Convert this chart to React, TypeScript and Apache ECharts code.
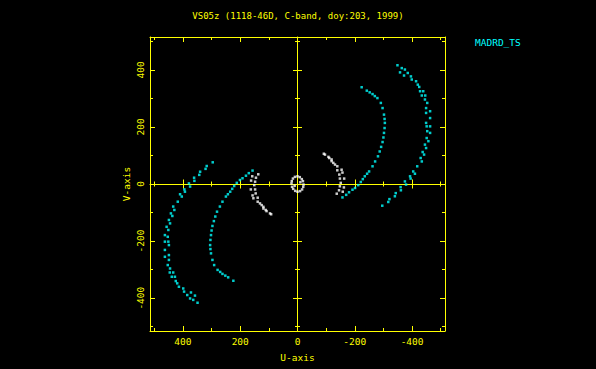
import React, { useEffect, useRef } from 'react';
import * as echarts from 'echarts';

const TITLE = 'VS05z (1118-46D, C-band, doy:203, 1999)';
const LEGEND = 'MADRD_TS';
const X_NAME = 'U-axis';
const Y_NAME = 'V-axis';
const AXIS_MIN = -515;
const AXIS_MAX = 515;
const MAJOR_TICKS = [-400, -200, 0, 200, 400];
const MINOR_TICKS = [-500, -300, -100, 100, 300, 500];
const CENTER_MAJOR = [-400, -200, 200, 400];
const TICK_LABELS = [-400, -200, 0, 200, 400];

// MADRD_TS long baseline track (u, v) — conjugates added below
const outerArc: number[][] = [
  [296, 76], [317, 63], [321, 53], [340, 43], [343, 32], [361, 22], [360, 11], [379, 2],
  [375, -9], [395, -19], [393, -27], [410, -36], [404, -44], [418, -62], [434, -79], [430, -91],
  [442, -103], [437, -112], [449, -126], [445, -138], [457, -150], [451, -161], [463, -179], [453, -185],
  [463, -202], [451, -202], [449, -214], [463, -231], [449, -249], [463, -255], [449, -266], [453, -284],
  [445, -296], [446, -310], [434, -310], [439, -325], [428, -325], [425, -340], [420, -348], [414, -360],
  [399, -366], [396, -377], [385, -389], [372, -380], [375, -401], [364, -406], [358, -391], [349, -416],
];

const innerArc: number[][] = [
  [157, 47], [170, 38], [180, 29], [192, 20], [201, 14], [212, 4], [221, -7], [228, -17],
  [235, -27], [243, -36], [250, -44], [262, -62], [271, -79], [281, -97], [287, -114], [292, -130],
  [297, -147], [300, -163], [302, -179], [304, -196], [305, -214], [304, -228], [302, -243], [297, -266],
  [291, -284], [279, -301], [270, -308], [262, -315], [252, -321], [242, -327], [224, -339],
];

const whiteArc: number[][] = [
  [137, 34], [145, 22], [158, 27], [162, 12], [148, 8], [151, -4], [163, -19], [148, -19],
  [146, -33], [157, -40], [154, -50], [139, -48], [139, -62], [131, -68], [125, -74], [119, -80],
  [119, -86], [111, -91], [108, -95], [96, -103], [92, -106],
];

const originArc: number[][] = [
  [21, 2], [20, 10], [16, 19], [9, 25], [0, 27], [-8, 24], [-15, 17], [-19, 10], [10, -6],
];

const withConjugates = (pts: number[][]) => [...pts, ...pts.map(([u, v]) => [-u, -v])];

const YEL = '#ffff00';
const CYAN = '#00ffff';
const WHITE = '#ffffff';
const FONT = 'DejaVu Sans Mono';

type AxOpt = {
  position: string;
  onZero?: boolean;
  line?: boolean;
  ticks: number[];
  len: number;
  inside: boolean;
  labels?: boolean;
  name?: string;
  nameGap?: number;
  inverse?: boolean;
  isY?: boolean;
};

function mkAxis(o: AxOpt) {
  const axisLine: any = {
    show: !!o.line,
    onZero: !!o.onZero,
    lineStyle: { color: YEL, width: 1 },
  };
  if (o.onZero) axisLine.onZeroAxisIndex = 0;
  return {
    type: 'value',
    min: AXIS_MIN,
    max: AXIS_MAX,
    inverse: !!o.inverse,
    position: o.position,
    splitLine: { show: false },
    axisLine,
    axisTick: {
      show: true,
      customValues: o.ticks,
      length: o.len,
      inside: o.inside,
      lineStyle: { color: YEL, width: 1 },
    },
    axisLabel: o.labels
      ? {
          show: true,
          customValues: TICK_LABELS,
          color: YEL,
          fontFamily: FONT,
          fontSize: 9.5,
          margin: 5,
          rotate: o.isY ? 90 : 0,
          formatter: (v: number) => String(v),
        }
      : { show: false },
    name: o.name || '',
    nameLocation: 'middle',
    nameGap: o.nameGap || 0,
    nameTextStyle: { color: YEL, fontFamily: FONT, fontSize: 9.5 },
  };
}

function axesFor(isY: boolean) {
  const a = isY ? 'left' : 'bottom';
  const b = isY ? 'right' : 'top';
  const inv = !isY;
  return [
    mkAxis({ position: a, line: true, ticks: MAJOR_TICKS, len: 5, inside: true, labels: true, name: isY ? Y_NAME : X_NAME, nameGap: isY ? 19 : 21, inverse: inv, isY }),
    mkAxis({ position: a, ticks: MINOR_TICKS, len: 3, inside: true, inverse: inv, isY }),
    mkAxis({ position: b, line: true, ticks: MAJOR_TICKS, len: 5, inside: true, inverse: inv, isY }),
    mkAxis({ position: b, ticks: MINOR_TICKS, len: 3, inside: true, inverse: inv, isY }),
    mkAxis({ position: a, onZero: true, line: true, ticks: CENTER_MAJOR, len: 4.5, inside: true, inverse: inv, isY }),
    mkAxis({ position: a, onZero: true, ticks: CENTER_MAJOR, len: 4.5, inside: false, inverse: inv, isY }),
    mkAxis({ position: a, onZero: true, ticks: MINOR_TICKS, len: 2.5, inside: true, inverse: inv, isY }),
    mkAxis({ position: a, onZero: true, ticks: MINOR_TICKS, len: 2.5, inside: false, inverse: inv, isY }),
  ];
}

function scatter(name: string, data: number[][], color: string) {
  return {
    type: 'scatter',
    name,
    xAxisIndex: 0,
    yAxisIndex: 0,
    data,
    symbol: 'rect',
    symbolSize: 2.5,
    itemStyle: { color },
    silent: true,
  };
}

export default function App() {
  const ref = useRef<HTMLDivElement>(null);
  useEffect(() => {
    if (!ref.current) return;
    const chart = echarts.init(ref.current, null, { renderer: 'svg' });
    chart.setOption({
      animation: false,
      backgroundColor: '#000000',
      grid: { left: 150, top: 37, width: 295, height: 294, outerBoundsMode: 'none', containLabel: false },
      xAxis: axesFor(false),
      yAxis: axesFor(true),
      series: [
        scatter('MADRD_TS outer', withConjugates(outerArc), CYAN),
        scatter('MADRD_TS inner', withConjugates(innerArc), CYAN),
        scatter('short', withConjugates(whiteArc), WHITE),
        scatter('origin', withConjugates(originArc), WHITE),
      ],
      graphic: [
        {
          type: 'text',
          x: 298,
          y: 16,
          style: { text: TITLE, fill: YEL, font: `9px "${FONT}"`, textAlign: 'center', textVerticalAlign: 'middle' },
        },
        {
          type: 'text',
          x: 475,
          y: 42,
          style: { text: LEGEND, fill: CYAN, font: `9.5px "${FONT}"`, textAlign: 'left', textVerticalAlign: 'middle' },
        },
      ],
    });
    return () => chart.dispose();
  }, []);
  return (
    <div
      ref={ref}
      style={{ position: 'fixed', left: 0, top: 0, width: 596, height: 369, background: '#000' }}
    />
  );
}
